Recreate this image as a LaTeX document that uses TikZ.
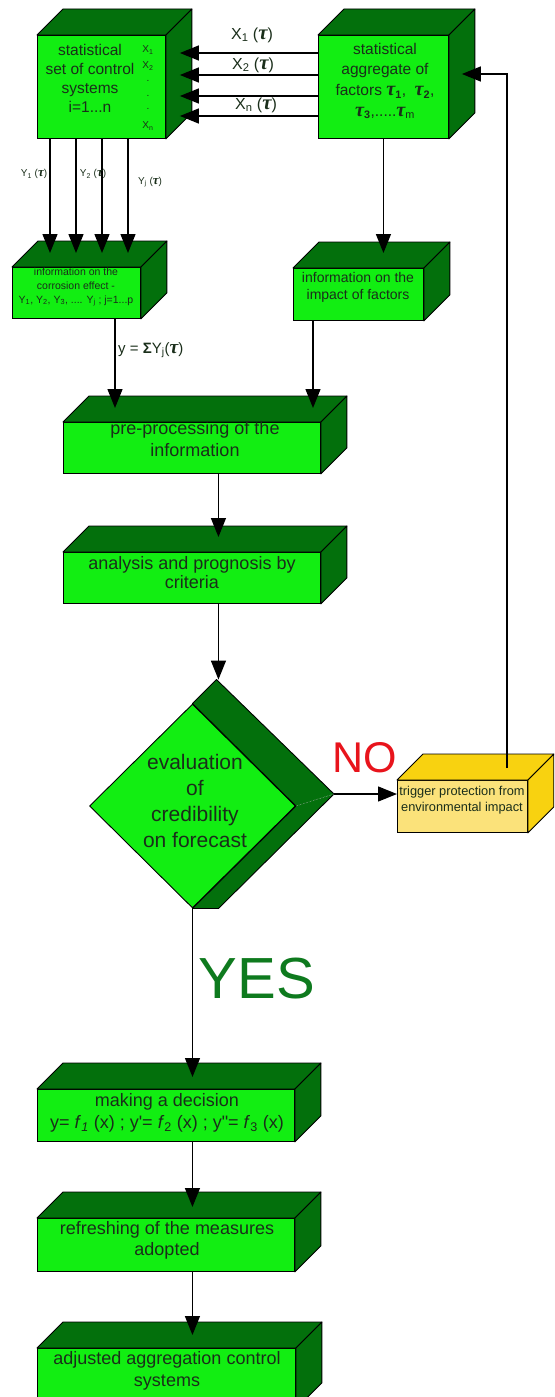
\documentclass[tikz,border=0pt]{standalone}
\usepackage{fontspec}
\setmainfont{Liberation Sans}
\newfontfamily\grkfont{Liberation Serif}[Scale=1.3]
\usetikzlibrary{arrows.meta,calc,shapes.geometric}

\definecolor{facegreen}{HTML}{12EE12}
\definecolor{deepgreen}{HTML}{03700C}
\definecolor{paleyellow}{HTML}{FBE27A}
\definecolor{gold}{HTML}{F8D210}
\definecolor{ink}{HTML}{1A2E1A}
\definecolor{yesgreen}{HTML}{0E7A1E}
\definecolor{nored}{HTML}{E8141C}

\newcommand\gtau{{\grkfont\bfseries\itshape τ}}

\tikzset{
  front/.style={draw=black, line width=0.9pt, inner sep=0pt, anchor=north west},
  shade/.style={draw=black, line width=0.9pt, fill=deepgreen, line join=round},
  arr/.style={line width=1.4pt, -{Triangle[length=19pt,width=15pt]}},
  lbl/.style={text=ink, align=center, inner sep=0pt},
}

% front face node plus top and right faces of a block
\newcommand\solidbox[7]{%
  \node[front, fill=#6, minimum width=#4pt, minimum height=#5pt] (#1) at (#2,#3) {};
  \draw[shade, fill=#7] (#1.north west) -- ++(26,-26) -- ($(#1.north east)+(26,-26)$) -- (#1.north east) -- cycle;
  \draw[shade, fill=#7] (#1.north east) -- ++(26,-26) -- ($(#1.south east)+(26,-26)$) -- (#1.south east) -- cycle;
}

\begin{document}
\begin{tikzpicture}[x=1pt,y=-1pt]
\path[use as bounding box, clip] (0,0) rectangle (554,1397);

% blocks
\solidbox{b1}{37}{35}{128}{103}{facegreen}{deepgreen}
\solidbox{b2}{318}{35}{130}{103}{facegreen}{deepgreen}
\solidbox{b3}{12}{267}{128}{51}{facegreen}{deepgreen}
\solidbox{b4}{293}{268}{130}{52}{facegreen}{deepgreen}
\solidbox{b5}{63}{422}{257}{51}{facegreen}{deepgreen}
\solidbox{b6}{63}{552}{257}{51}{facegreen}{deepgreen}
\solidbox{b7}{37}{1089}{257}{52}{facegreen}{deepgreen}
\solidbox{b8}{37}{1218}{257}{53}{facegreen}{deepgreen}
\solidbox{b9}{37}{1348}{258}{60}{facegreen}{deepgreen}
\solidbox{by}{397}{780}{130}{52}{paleyellow}{gold}

% decision diamond with its extruded side
\node[diamond, aspect=1, draw=black, line width=0.9pt, fill=facegreen, inner sep=0pt,
      minimum width=206pt, minimum height=204pt] (dia) at (192.5,806) {};
\coordinate (dback) at ($(dia.north)+(24,-24)$);
\coordinate (dright) at ($(dia.east)+(38,-12)$);
\coordinate (dlow) at ($(dia.south)+(26,0)$);
\draw[shade] (dia.north) -- (dback) -- (dright) -- (dlow) -- (dia.south) -- (dia.east) -- cycle;
\draw[line width=0.5pt, densely dotted, white!70!black] (dia.east) -- (dright);

% texts in the blocks
\node[lbl, font=\fontsize{15.5}{19}\selectfont] (t1) at (90,78.5) {statistical\\set of control\\systems\\i=1...n};
\begin{scope}[every node/.style={lbl, font=\fontsize{10}{12}\selectfont}]
  \node (xi1) at (148,50) {X\textsubscript{1}};
  \node (xi2) at (148,66) {X\textsubscript{2}};
  \node (xd1) at (148,81) {.};
  \node (xd2) at (148,96) {.};
  \node (xd3) at (148,109) {.};
  \node (xin) at (148,126) {X\textsubscript{n}};
\end{scope}
\node[lbl, font=\fontsize{15.5}{20.6}\selectfont] (t2) at (385,81)
  {statistical\\aggregate of\\factors \gtau\textsubscript{\textbf{1}},\ \ \gtau\textsubscript{\textbf{2}},\\\gtau\textsubscript{\textbf{3}},.....\gtau\textsubscript{m}};
\node[lbl, font=\fontsize{10.5}{14}\selectfont] (t3) at (76,287)
  {information on the\\corrosion effect -\\Y\textsubscript{1}, Y\textsubscript{2}, Y\textsubscript{3}, .... Y\textsubscript{j} ; j=1...p};
\node[lbl, font=\fontsize{14}{17}\selectfont] (t4) at (358,287.5) {information on the\\impact of factors};
\node[lbl, font=\fontsize{18}{22}\selectfont] (t5) at (195,439) {pre-processing of the\\information};
\node[lbl, font=\fontsize{18}{19.5}\selectfont] (t6) at (192,572.5) {analysis and prognosis by\\criteria};
\node[lbl, font=\fontsize{21}{26}\selectfont] (td) at (195,801) {evaluation\\of\\credibility\\on forecast};
\node[lbl, font=\fontsize{12.8}{16}\selectfont] (ty) at (462,800) {trigger protection from\\environmental impact};
\node[lbl, font=\fontsize{18}{22}\selectfont] (t7) at (167,1113)
  {making a decision\\y= \textit{f}\textsubscript{\textit{1}} (x) ; y\textquotesingle= \textit{f}\textsubscript{2} (x) ; y\textquotedbl= \textit{f}\textsubscript{3} (x)};
\node[lbl, font=\fontsize{18}{21}\selectfont] (t8) at (167,1240.5) {refreshing of the measures\\adopted};
\node[lbl, font=\fontsize{18}{22}\selectfont] (t9) at (167,1371) {adjusted aggregation control\\systems};

% inputs X_i from the aggregate of factors
\foreach \dy in {18,40,61,81}
  \draw[arr] ($(b2.north west)+(0,\dy)$) -- ($(b1.north east)+(14,\dy)$);
\begin{scope}[every node/.style={lbl, font=\fontsize{16}{18}\selectfont}]
  \node (lx1) at (252,35) {X\textsubscript{1} (\gtau)};
  \node (lx2) at (253,65) {X\textsubscript{2} (\gtau)};
  \node (lxn) at (256,105) {X\textsubscript{n} (\gtau)};
\end{scope}

% outputs Y_j into the corrosion block
\coordinate (b3top) at ($(b3.north)+(0,-14)$);
\foreach \dx in {13,39,65,91} {
  \coordinate (ys) at ($(b1.south west)+(\dx,0)$);
  \draw[arr] (ys) -- (ys |- b3top);
}
\begin{scope}[every node/.style={lbl, font=\fontsize{10}{12}\selectfont}]
  \node (ly1) at (34,174) {Y\textsubscript{1} (\gtau)};
  \node (ly2) at (93,174) {Y\textsubscript{2} (\gtau)};
  \node (lyj) at (150,182) {Y\textsubscript{j} (\gtau)};
\end{scope}

% factors to their impact block
\coordinate (b4top) at ($(b4.north)+(0,-15)$);
\draw[arr] (b2.south) -- (b2.south |- b4top);

% both information blocks into pre-processing
\coordinate (b5top) at ($(b5.north)+(0,-14)$);
\coordinate (s3) at ($(b3.south west)+(103,0)$);
\draw[arr] (s3) -- (s3 |- b5top);
\node[lbl, font=\fontsize{15}{17}\selectfont, anchor=west] (lsum) at (118,350) {y = \textbf{Σ}Y\textsubscript{j}(\gtau)};
\coordinate (s4) at ($(b4.south west)+(20,0)$);
\draw[arr] (s4) -- (s4 |- b5top);

% main chain
\coordinate (b6top) at ($(b6.north)+(0,-15)$);
\coordinate (s5) at ($(b5.south)+(26.5,0)$);
\draw[arr] (s5) -- (s5 |- b6top);
\coordinate (s6) at ($(b6.south)+(26.5,0)$);
\draw[arr] (s6) -- (s6 |- dback);

% NO branch with feedback to the factors
\draw[arr] (dright) -- (dright -| by.west);
\node[text=nored, font=\fontsize{43}{45}\selectfont, inner sep=0pt] (no) at (365,758) {NO};
\coordinate (fb) at ($(by.north west)+(110,-12)$);
\coordinate (fbend) at ($(b2.north east)+(13,39)$);
\draw[arr] (fb) -- (fb |- fbend) -- (fbend);

% YES branch
\coordinate (b7top) at ($(b7.north)+(0,-12)$);
\draw[arr] (dia.south) -- (dia.south |- b7top);
\node[text=yesgreen, font=\fontsize{58}{60}\selectfont, inner sep=0pt] (yes) at (257,979) {YES};

\coordinate (b8top) at ($(b8.north)+(0,-11)$);
\coordinate (s7) at ($(b7.south)+(26.5,0)$);
\draw[arr] (s7) -- (s7 |- b8top);
\coordinate (b9top) at ($(b9.north)+(0,-13)$);
\coordinate (s8) at ($(b8.south)+(26.5,0)$);
\draw[arr] (s8) -- (s8 |- b9top);
\end{tikzpicture}
\end{document}
